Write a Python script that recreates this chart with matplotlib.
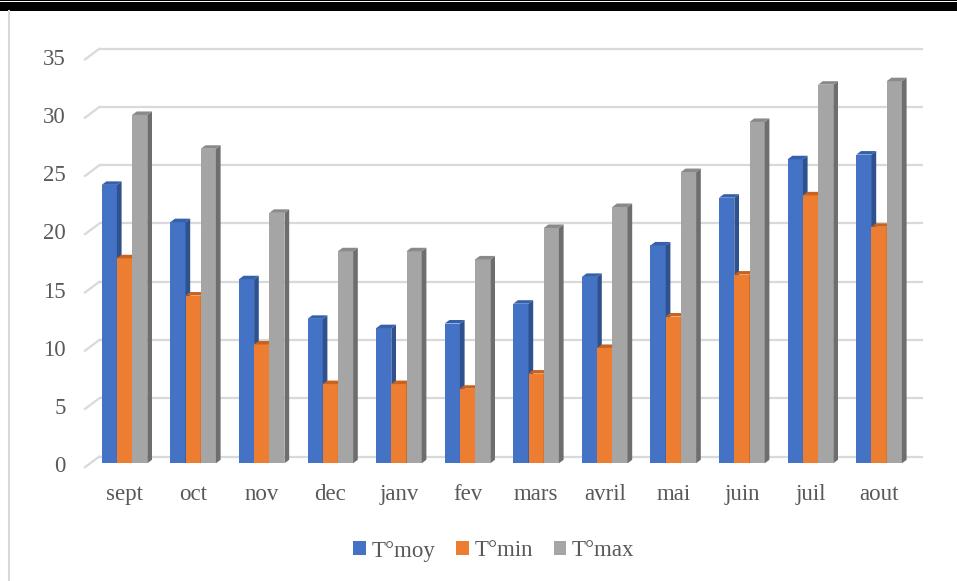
import matplotlib.pyplot as plt
from matplotlib.patches import Polygon, Patch, Rectangle
from matplotlib.lines import Line2D

# données
mois = ["sept", "oct", "nov", "dec", "janv", "fev", "mars", "avril", "mai", "juin", "juil", "aout"]
t_moy = [23.9, 20.7, 15.8, 12.4, 11.6, 12.0, 13.7, 16.0, 18.7, 22.8, 26.1, 26.5]
t_min = [17.6, 14.4, 10.2, 6.8, 6.8, 6.4, 7.7, 9.9, 12.6, 16.2, 23.0, 20.3]
t_max = [29.9, 27.0, 21.5, 18.2, 18.2, 17.5, 20.2, 22.0, 25.0, 29.3, 32.5, 32.8]
graduations = [0, 5, 10, 15, 20, 25, 30, 35]

series = [
    ("T°moy", t_moy, "#4472C4", "#2F528F", "#3560AC"),
    ("T°min", t_min, "#ED7D31", "#AE5A21", "#C8621D"),
    ("T°max", t_max, "#A5A5A5", "#6E6E6E", "#8A8A8A"),
]

police = "Liberation Serif"
taille = 16.5

W, H = 957, 581
fig = plt.figure(figsize=(W / 100, H / 100), dpi=100)
fig.patch.set_facecolor("white")

# axes placées en pixels
ax = fig.add_axes([60 / W, (H - 480) / H, 880 / W, 440 / H])
px_x = 68.6   # pixels par mois
px_y = 11.65  # pixels par degré
ax.set_xlim((60 - 124.5) / px_x, (940 - 124.5) / px_x)
ax.set_ylim(-(480 - 463.3) / px_y, (463.3 - 40) / px_y)
for s in ax.spines.values():
    s.set_visible(False)
ax.set_yticks([])

# effet 3D
dx = 4.7 / px_x
dy = 3.5 / px_y
mur = 6.8 / px_y        # décalage du mur du fond
sol_x = 14.3 / px_x     # profondeur du sol
sol_y = 10.7 / px_y

gris_grille = "#D9D9D9"
x_mur0 = (99.3 - 124.5) / px_x
x_mur1 = (922.7 - 124.5) / px_x
for g in graduations:
    ax.plot([x_mur0, x_mur1], [g + mur, g + mur], color=gris_grille, lw=1.6, zorder=1,
            solid_capstyle="butt")
    ax.plot([x_mur0 - sol_x, x_mur0], [g + mur - sol_y, g + mur], color=gris_grille,
            lw=1.6, zorder=1)
    ax.text(-0.86, g - 0.3, str(g), ha="right", va="center", fontsize=taille,
            family=police, color="#595959")

largeur = 15.2 / px_x
x = list(range(len(mois)))
for k, (nom, vals, face, cote, dessus) in enumerate(series):
    pos = [i + (k - 1) * largeur for i in x]
    ax.bar(pos, vals, width=largeur, color=face, zorder=3 + k, label=nom)
    for p, v in zip(pos, vals):
        x0 = p - largeur / 2
        x1 = p + largeur / 2
        ax.add_patch(Polygon([(x1, 0), (x1 + dx, dy), (x1 + dx, v + dy), (x1, v)],
                             closed=True, facecolor=cote, edgecolor="none", zorder=3 + k))
        ax.add_patch(Polygon([(x0, v), (x0 + dx, v + dy), (x1 + dx, v + dy), (x1, v)],
                             closed=True, facecolor=dessus, edgecolor="none", zorder=3 + k))

ax.set_xticks(x)
ax.set_xticklabels(mois, fontsize=taille, family=police, color="#595959")
ax.tick_params(axis="x", length=0, pad=3)

poignees = [Patch(facecolor=s[2], label=s[0]) for s in series]
leg = fig.legend(handles=poignees, loc="center", bbox_to_anchor=(494 / W, 1 - 551 / H), ncol=3,
                 frameon=False, handlelength=0.55, handleheight=0.55, handletextpad=0.25,
                 columnspacing=0.9, prop={"family": police, "size": taille})
for t in leg.get_texts():
    t.set_color("#595959")

# bandeau noir et cadre
fig.add_artist(Rectangle((0, 1 - 11 / H), 1, 8.5 / H, transform=fig.transFigure,
                         facecolor="black", edgecolor="none"))
fig.add_artist(Rectangle((0, 1 - 1.2 / H), 1, 1.2 / H, transform=fig.transFigure,
                         facecolor="black", edgecolor="none"))
fig.add_artist(Line2D([9 / W, 9 / W], [0, 1 - 11 / H], transform=fig.transFigure,
                      color="#D9D9D9", lw=1.5))

fig.savefig("out.png", dpi=100)
